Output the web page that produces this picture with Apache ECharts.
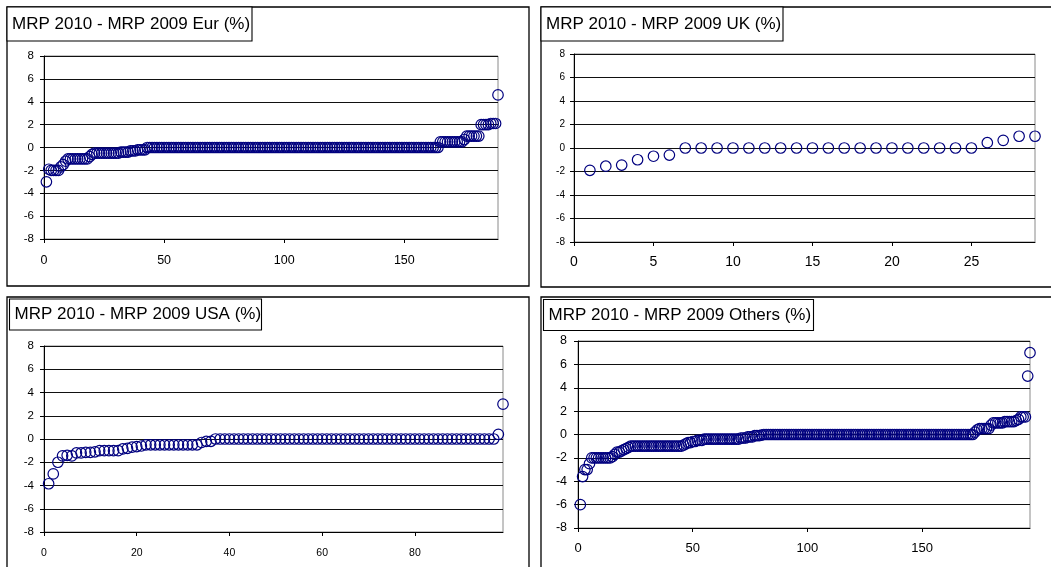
<!DOCTYPE html>
<html>
<head>
<meta charset="utf-8">
<script src="https://cdn.jsdelivr.net/npm/echarts@6/dist/echarts.min.js"></script>
<style>
html,body{margin:0;padding:0;background:#fff;}
#c{width:1051px;height:567px;}
</style>
</head>
<body>
<div id="c"></div>
<script>
// ---------------- DATA ----------------
const titles = [
  'MRP 2010 - MRP 2009 Eur (%)',
  'MRP 2010 - MRP 2009 UK (%)',
  'MRP 2010 - MRP 2009 USA (%)',
  'MRP 2010 - MRP 2009 Others (%)'
];

const eurValues = [
  -3.0, -1.9, -2.0, -2.0, -2.0, -2.0, -1.7, -1.5, -1.2, -1.0,
  -1.0, -1.0, -1.0, -1.0, -1.0, -1.0, -1.0, -1.0, -0.8, -0.6,
  -0.5, -0.5, -0.5, -0.5, -0.5, -0.5, -0.5, -0.5, -0.5, -0.5,
  -0.5, -0.4, -0.4, -0.4, -0.4, -0.3, -0.3, -0.3, -0.2, -0.2,
  -0.2, -0.2, 0, 0, 0, 0, 0, 0, 0, 0,
  0, 0, 0, 0, 0, 0, 0, 0, 0, 0,
  0, 0, 0, 0, 0, 0, 0, 0, 0, 0,
  0, 0, 0, 0, 0, 0, 0, 0, 0, 0,
  0, 0, 0, 0, 0, 0, 0, 0, 0, 0,
  0, 0, 0, 0, 0, 0, 0, 0, 0, 0,
  0, 0, 0, 0, 0, 0, 0, 0, 0, 0,
  0, 0, 0, 0, 0, 0, 0, 0, 0, 0,
  0, 0, 0, 0, 0, 0, 0, 0, 0, 0,
  0, 0, 0, 0, 0, 0, 0, 0, 0, 0,
  0, 0, 0, 0, 0, 0, 0, 0, 0, 0,
  0, 0, 0, 0, 0, 0, 0, 0, 0, 0,
  0, 0, 0, 0, 0.5, 0.5, 0.5, 0.5, 0.5, 0.5,
  0.5, 0.5, 0.5, 0.5, 0.7, 1.0, 1.0, 1.0, 1.0, 1.0,
  1.0, 2.0, 2.0, 2.0, 2.0, 2.1, 2.1, 2.1, 4.6
];

const ukValues = [
  -1.9, -1.55, -1.45, -1.0, -0.7, -0.6, 0, 0, 0, 0,
  0, 0, 0, 0, 0, 0, 0, 0, 0, 0,
  0, 0, 0, 0, 0, 0.45, 0.65, 1.0, 1.0
];

const usaValues = [
  -3.85, -3.0, -2.0, -1.45, -1.4, -1.45, -1.2, -1.2, -1.15, -1.15,
  -1.1, -1.0, -1.0, -1.0, -1.0, -1.0, -0.85, -0.8, -0.7, -0.65,
  -0.6, -0.5, -0.5, -0.5, -0.5, -0.5, -0.5, -0.5, -0.5, -0.5,
  -0.5, -0.5, -0.5, -0.3, -0.2, -0.2, 0, 0, 0, 0,
  0, 0, 0, 0, 0, 0, 0, 0, 0, 0,
  0, 0, 0, 0, 0, 0, 0, 0, 0, 0,
  0, 0, 0, 0, 0, 0, 0, 0, 0, 0,
  0, 0, 0, 0, 0, 0, 0, 0, 0, 0,
  0, 0, 0, 0, 0, 0, 0, 0, 0, 0,
  0, 0, 0, 0, 0, 0, 0, 0.4, 3.0
];

const othersValues = [
  -6.0, -3.6, -3.0, -3.0, -2.5, -2.0, -2.0, -2.0, -2.0, -2.0,
  -2.0, -2.0, -2.0, -2.0, -1.9, -1.7, -1.5, -1.5, -1.4, -1.3,
  -1.2, -1.1, -1.0, -1.0, -1.0, -1.0, -1.0, -1.0, -1.0, -1.0,
  -1.0, -1.0, -1.0, -1.0, -1.0, -1.0, -1.0, -1.0, -1.0, -1.0,
  -1.0, -1.0, -1.0, -1.0, -1.0, -0.9, -0.8, -0.7, -0.7, -0.6,
  -0.6, -0.5, -0.5, -0.5, -0.4, -0.4, -0.4, -0.4, -0.4, -0.4,
  -0.4, -0.4, -0.4, -0.4, -0.4, -0.4, -0.4, -0.4, -0.4, -0.4,
  -0.3, -0.3, -0.3, -0.2, -0.2, -0.2, -0.1, -0.1, -0.1, -0.05,
  0, 0, 0, 0, 0, 0, 0, 0, 0, 0,
  0, 0, 0, 0, 0, 0, 0, 0, 0, 0,
  0, 0, 0, 0, 0, 0, 0, 0, 0, 0,
  0, 0, 0, 0, 0, 0, 0, 0, 0, 0,
  0, 0, 0, 0, 0, 0, 0, 0, 0, 0,
  0, 0, 0, 0, 0, 0, 0, 0, 0, 0,
  0, 0, 0, 0, 0, 0, 0, 0, 0, 0,
  0, 0, 0, 0, 0, 0, 0, 0, 0, 0,
  0, 0, 0, 0, 0, 0, 0, 0, 0, 0,
  0, 0, 0.2, 0.4, 0.5, 0.5, 0.5, 0.5, 0.5, 0.8,
  1.0, 1.0, 1.0, 1.0, 1.0, 1.1, 1.1, 1.1, 1.1, 1.1,
  1.2, 1.3, 1.5, 1.5, 1.5, 5.0, 7.0
];

const eurXTicks = [0, 50, 100, 150];
const ukXTicks = [0, 5, 10, 15, 20, 25];
const usaXTicks = [0, 20, 40, 60, 80];
const othersXTicks = [0, 50, 100, 150];
const xMax = [189, 29, 99, 197];
const yMin = -8, yMax = 8, yStep = 2;

// ---------------- LAYOUT / STYLE ----------------
const FONT = '"Liberation Sans", Arial, sans-serif';
const panels = [
  { values: eurValues, ticks: eurXTicks, grid: {left: 44, top: 56, width: 454, height: 183},
    yFont: 11.5, xFont: 12.5, yMargin: 10, xMargin: 15,
    frame: [7, 7, 522, 279], tbox: [7, 7, 245, 34] },
  { values: ukValues, ticks: ukXTicks, grid: {left: 574, top: 54, width: 461, height: 188},
    yFont: 10, xFont: 14, yMargin: 9, xMargin: 13,
    frame: [541, 7, 515, 280], tbox: [541, 7, 242, 34] },
  { values: usaValues, ticks: usaXTicks, grid: {left: 44, top: 346, width: 459, height: 186},
    yFont: 11.5, xFont: 10.5, yMargin: 10, xMargin: 16,
    frame: [7, 297, 522, 280], tbox: [9.5, 299, 252, 31] },
  { values: othersValues, ticks: othersXTicks, grid: {left: 578, top: 341, width: 452, height: 187},
    yFont: 12.5, xFont: 13, yMargin: 11, xMargin: 14,
    frame: [541, 297, 515, 280], tbox: [543.5, 299.5, 270, 31] }
];

const grids = [], xAxes = [], yAxes = [], series = [], graphics = [];
panels.forEach((p, k) => {
  grids.push(Object.assign({
    containLabel: false, outerBoundsMode: 'none',
    show: true, borderColor: '#8a8a8a', borderWidth: 1, backgroundColor: 'transparent'
  }, p.grid));
  xAxes.push({
    type: 'value', gridIndex: k, min: 0, max: xMax[k],
    axisLine: {show: true, onZero: false, lineStyle: {color: '#000', width: 1}},
    axisTick: {show: true, length: 4, customValues: p.ticks, lineStyle: {color: '#000'}},
    axisLabel: {show: true, customValues: p.ticks, color: '#000', fontFamily: FONT,
      fontSize: p.xFont, margin: p.xMargin},
    splitLine: {show: false}
  });
  yAxes.push({
    type: 'value', gridIndex: k, min: yMin, max: yMax, interval: yStep,
    axisLine: {show: true, onZero: false, lineStyle: {color: '#000', width: 1}},
    axisTick: {show: true, length: 4, lineStyle: {color: '#000'}},
    axisLabel: {color: '#000', fontFamily: FONT, fontSize: p.yFont, margin: p.yMargin},
    splitLine: {show: true, lineStyle: {color: '#111', width: 1}}
  });
  series.push({
    type: 'scatter', xAxisIndex: k, yAxisIndex: k,
    symbol: 'circle', symbolSize: 10.5,
    itemStyle: {color: 'rgba(0,0,0,0)', borderColor: '#00007f', borderWidth: 1.2, opacity: 1},
    emphasis: {disabled: true},
    data: p.values.map((v, i) => [i + 1, v])
  });
  const f = p.frame, t = p.tbox;
  graphics.push({type: 'rect', silent: true, z: 100,
    shape: {x: f[0], y: f[1], width: f[2], height: f[3]},
    style: {fill: 'none', stroke: '#000', lineWidth: 1.3}});
  graphics.push({type: 'rect', silent: true, z: 101,
    shape: {x: t[0], y: t[1], width: t[2], height: t[3]},
    style: {fill: '#fff', stroke: '#000', lineWidth: 1.1}});
  graphics.push({type: 'text', silent: true, z: 102,
    x: t[0] + 5, y: t[1] + t[3] / 2,
    style: {text: titles[k], fill: '#000', font: '17px ' + FONT,
      verticalAlign: 'middle', align: 'left'}});
});

const chart = echarts.init(document.getElementById('c'), null, {renderer: 'canvas'});
chart.setOption({
  animation: false,
  backgroundColor: '#fff',
  grid: grids, xAxis: xAxes, yAxis: yAxes, series: series,
  graphic: graphics
});
</script>
</body>
</html>
